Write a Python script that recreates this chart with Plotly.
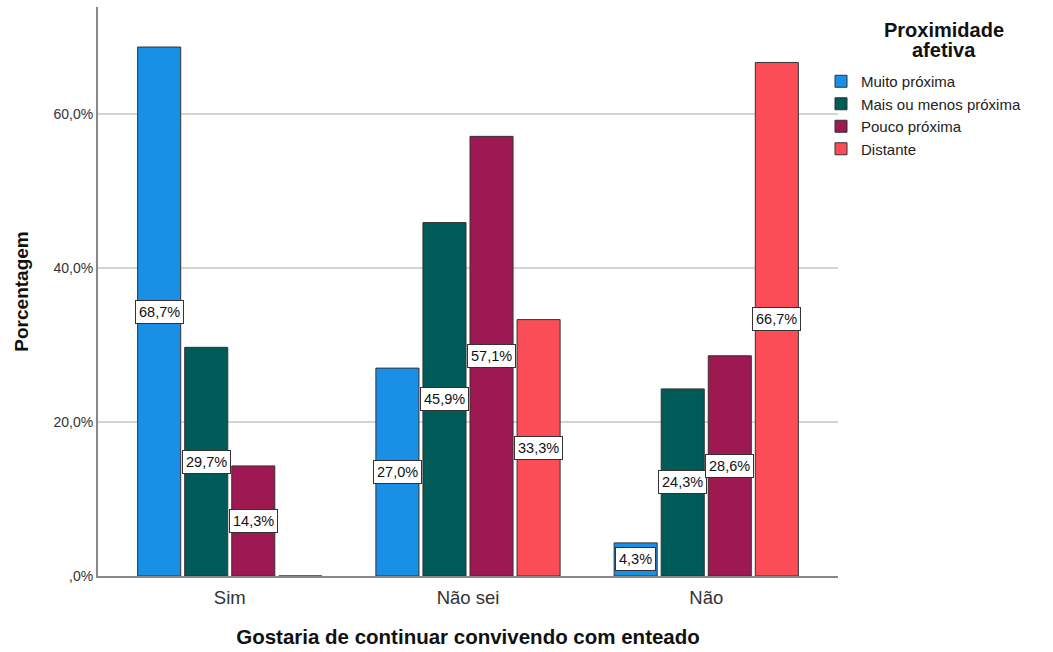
import plotly.graph_objects as go

# Categories and series (percentages)
categories = ["Sim", "Não sei", "Não"]
series_names = ["Muito próxima", "Mais ou menos próxima", "Pouco próxima", "Distante"]
muito_proxima = [68.7, 27.0, 4.3]
mais_ou_menos_proxima = [29.7, 45.9, 24.3]
pouco_proxima = [14.3, 57.1, 28.6]
distante = [0.0, 33.3, 66.7]

y_tick_values = [0, 20, 40, 60]
y_tick_labels = [",0%", "20,0%", "40,0%", "60,0%"]
legend_heading = ["Proximidade", "afetiva"]

series_values = [muito_proxima, mais_ou_menos_proxima, pouco_proxima, distante]
colors = ["#1A8FE6", "#005A57", "#9E1951", "#FB4D57"]

FONT = "Liberation Sans, Arial, sans-serif"
BARGAP = 0.21
GROUPGAP = 0.085

# Plot area in pixels (left, right, top, bottom)
PL, PR, PT, PB = 98, 838, 7, 576


def px_to_paper(x_px, y_px):
    return (x_px - PL) / (PR - PL), (PB - y_px) / (PB - PT)


fig = go.Figure()
for name, vals, col in zip(series_names, series_values, colors):
    fig.add_trace(go.Bar(
        name=name, x=categories, y=vals,
        marker=dict(color=col, line=dict(color="#333333", width=1)),
        hoverinfo="x+y+name",
    ))

# Value labels: white boxes at the middle of each bar
n = len(series_names)
slot = (1 - BARGAP) / n
annotations = []
for k, vals in enumerate(series_values):
    for i, v in enumerate(vals):
        if v <= 0:
            continue
        annotations.append(dict(
            x=i + (k - (n - 1) / 2) * slot, y=v / 2, xref="x", yref="y",
            text=f"{v:.1f}%".replace(".", ","), showarrow=False,
            font=dict(family=FONT, size=14.5, color="#111111"),
            bgcolor="white", bordercolor="#333333", borderwidth=1, borderpad=3,
        ))

# Legend heading, one centred line at a time
for line, y_px in zip(legend_heading, [30, 50]):
    hx, hy = px_to_paper(944, y_px)
    annotations.append(dict(
        x=hx, y=hy, xref="paper", yref="paper", text=f"<b>{line}</b>",
        showarrow=False, xanchor="center", yanchor="middle",
        font=dict(family=FONT, size=20, color="#111111"),
    ))

lx, ly = px_to_paper(821, 65)
fig.update_layout(
    width=1053, height=652,
    margin=dict(l=PL, r=1053 - PR, t=PT, b=652 - PB),
    paper_bgcolor="white", plot_bgcolor="white",
    barmode="group", bargap=BARGAP, bargroupgap=GROUPGAP,
    font=dict(family=FONT, color="#222222"),
    annotations=annotations,
    showlegend=True,
    legend=dict(
        x=lx, xanchor="left", y=ly, yanchor="top",
        font=dict(family=FONT, size=15, color="#222222"),
        itemwidth=30, tracegroupgap=0, traceorder="normal",
        bgcolor="rgba(0,0,0,0)",
    ),
    xaxis=dict(
        type="category", range=[-0.553, 2.553], automargin=False,
        showline=True, linecolor="#888888", linewidth=2,
        showgrid=False, ticks="", ticklabelstandoff=4,
        tickfont=dict(family=FONT, size=18.5, color="#333333"),
        title=dict(text="<b>Gostaria de continuar convivendo com enteado</b>",
                   font=dict(family=FONT, size=20.5, color="#111111"), standoff=22),
    ),
    yaxis=dict(
        range=[0, 73.9], tickvals=y_tick_values, ticktext=y_tick_labels,
        automargin=False,
        showline=True, linecolor="#888888", linewidth=2,
        showgrid=True, gridcolor="#D4D4D4", gridwidth=2,
        zeroline=False, ticks="",
        tickfont=dict(family=FONT, size=14, color="#333333"),
        title=dict(text="<b>Porcentagem</b>",
                   font=dict(family=FONT, size=19, color="#111111"), standoff=20),
    ),
)

fig.write_html("out.html")
